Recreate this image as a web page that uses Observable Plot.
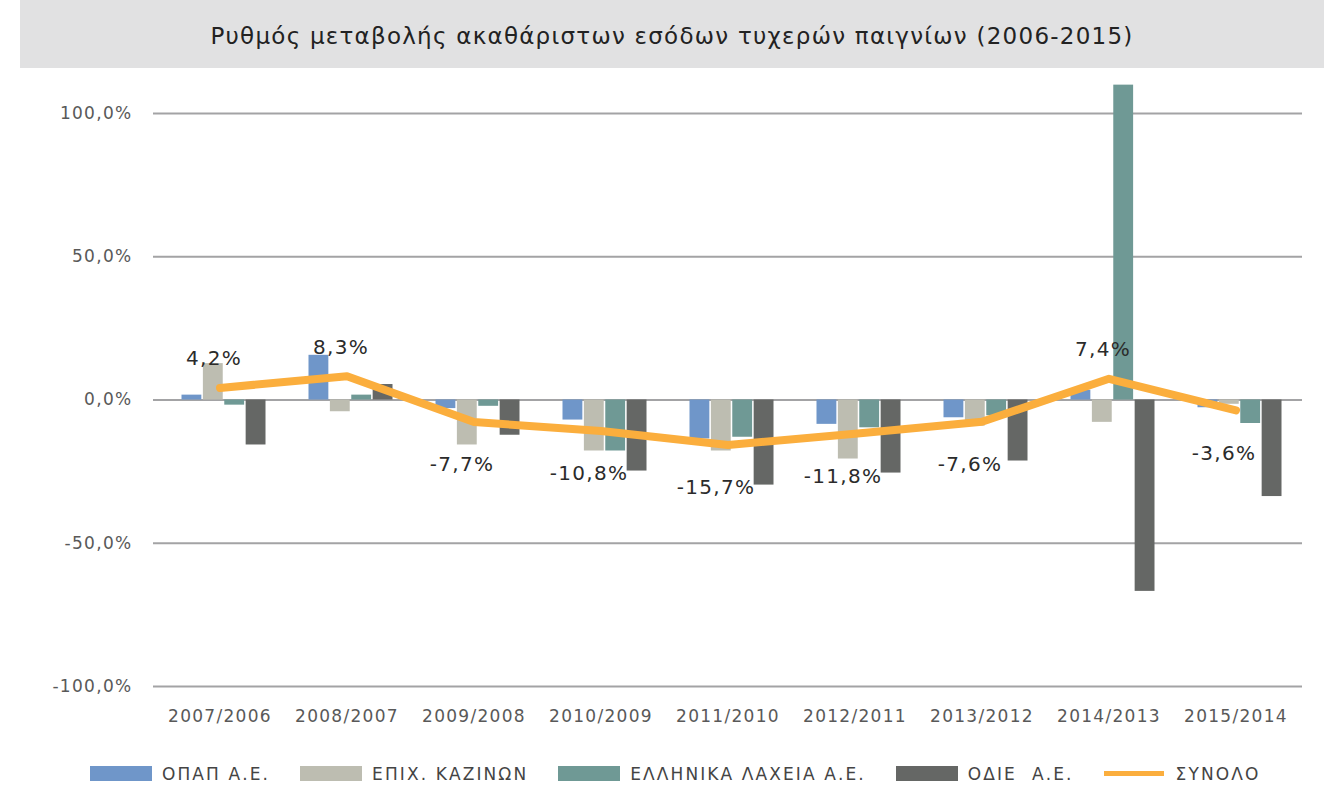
<!DOCTYPE html>
<html>
<head>
<meta charset="utf-8">
<script src="https://cdn.jsdelivr.net/npm/d3@7"></script>
<script src="https://cdn.jsdelivr.net/npm/@observablehq/plot@0.6"></script>
<style>
  html, body { margin: 0; padding: 0; background: #fff; }
  body { width: 1324px; height: 787px; overflow: hidden; font-family: "DejaVu Sans", sans-serif; }
  #title {
    margin-left: 20px; height: 68px; background: #e1e1e2;
    display: flex; align-items: center; justify-content: center;
    font-size: 23px; color: #222; letter-spacing: 1.25px; padding-top: 3px; box-sizing: border-box;
  }
  #chart { height: 680px; }
  #legend {
    display: flex; align-items: center; padding-left: 90px; margin-top: 17px;
    font-size: 17px; color: #444; height: 17px; letter-spacing: 2.1px;
  }
  .item { display: flex; align-items: center; margin-right: 30px; }
  .sw { width: 62px; height: 15px; margin-right: 10px; }
  .ln { width: 60px; height: 5px; margin-right: 12px; }
  #chart svg text { letter-spacing: 1.3px; }
</style>
</head>
<body>
<div id="title">Ρυθμός μεταβολής ακαθάριστων εσόδων τυχερών παιγνίων (2006-2015)</div>
<div id="chart"></div>
<div id="legend"></div>
<script>
const categories = ["2007/2006", "2008/2007", "2009/2008", "2010/2009", "2011/2010", "2012/2011", "2013/2012", "2014/2013", "2015/2014"];
const seriesNames = ["ΟΠΑΠ Α.Ε.", "ΕΠΙΧ. ΚΑΖΙΝΩΝ", "ΕΛΛΗΝΙΚΑ ΛΑΧΕΙΑ Α.Ε.", "ΟΔΙΕ  Α.Ε."];
const totalName = "ΣΥΝΟΛΟ";
const opap   = [1.7, 15.6, -3.0, -7.0, -13.6, -8.5, -6.2, 3.4, -2.7];
const kazino = [12.7, -4.1, -15.7, -17.8, -17.8, -20.6, -9.1, -7.8, -1.5];
const laxeia = [-1.8, 1.7, -2.2, -17.8, -13.0, -9.7, -5.5, 109.9, -8.2];
const odie   = [-15.7, 5.4, -12.3, -24.8, -29.7, -25.5, -21.3, -66.8, -33.7];
const total  = [4.2, 8.3, -7.7, -10.8, -15.7, -11.8, -7.6, 7.4, -3.6];
const yTicks = [-100, -50, 0, 50, 100];

const colors = ["#6f96c9", "#bdbdb1", "#6f9995", "#656765"];
const lineColor = "#fbae3d";

const seriesValues = [opap, kazino, laxeia, odie];
const barRows = seriesValues.flatMap((vals, j) =>
  vals.map((v, i) => ({cat: categories[i], series: seriesNames[j], value: v})));
const totalRows = total.map((v, i) => ({cat: categories[i], value: v}));

const fmt = v => v.toFixed(1).replace(".", ",");

const W = 1324, H = 680, mL = 153, mR = 22;
const pInner = 0.33;
const step = (W - mL - mR) / categories.length;
const bw = step * (1 - pInner);
const nS = seriesNames.length;

const barMarks = seriesNames.map((s, j) =>
  Plot.barY(barRows.filter(d => d.series === s), {
    x: "cat", y: "value", fill: colors[j], dx: 4,
    insetLeft: j * bw / nS + 0.5, insetRight: (nS - 1 - j) * bw / nS + 0.5
  }));

const chart = Plot.plot({
  width: W, height: H,
  marginLeft: mL, marginRight: mR, marginTop: 45, marginBottom: 62,
  style: {fontFamily: "'DejaVu Sans', sans-serif", fontSize: "17px", color: "#595959", background: "transparent"},
  x: {domain: categories, paddingInner: pInner, paddingOuter: pInner / 2, tickSize: 0, tickPadding: 23, label: null},
  y: {domain: [-100, 100], ticks: yTicks, tickFormat: d => fmt(d) + "%", tickSize: 0, tickPadding: 21, label: null},
  marks: [
    Plot.ruleY(yTicks, {stroke: "#a3a3a5", strokeWidth: 2}),
    ...barMarks,
    Plot.line(totalRows, {x: "cat", y: "value", stroke: lineColor, strokeWidth: 8, strokeLinecap: "round", strokeLinejoin: "round"}),
    Plot.text(totalRows.filter(d => d.value >= 0), {x: "cat", y: "value", text: d => fmt(d.value) + "%", dx: -6, dy: -29, fontSize: 20, fill: "#2b2b2b"}),
    Plot.text(totalRows.filter(d => d.value < 0), {x: "cat", y: "value", text: d => fmt(d.value) + "%", dx: -12, dy: 43, fontSize: 20, fill: "#2b2b2b"})
  ]
});
document.getElementById("chart").appendChild(chart);

const legend = document.getElementById("legend");
seriesNames.forEach((s, j) => {
  const it = document.createElement("div"); it.className = "item";
  const sw = document.createElement("div"); sw.className = "sw"; sw.style.background = colors[j];
  const tx = document.createElement("span"); tx.textContent = s; tx.style.whiteSpace = "pre";
  it.append(sw, tx); legend.appendChild(it);
});
{
  const it = document.createElement("div"); it.className = "item";
  const sw = document.createElement("div"); sw.className = "ln"; sw.style.background = lineColor;
  const tx = document.createElement("span"); tx.textContent = totalName;
  it.append(sw, tx); legend.appendChild(it);
}
</script>
</body>
</html>
